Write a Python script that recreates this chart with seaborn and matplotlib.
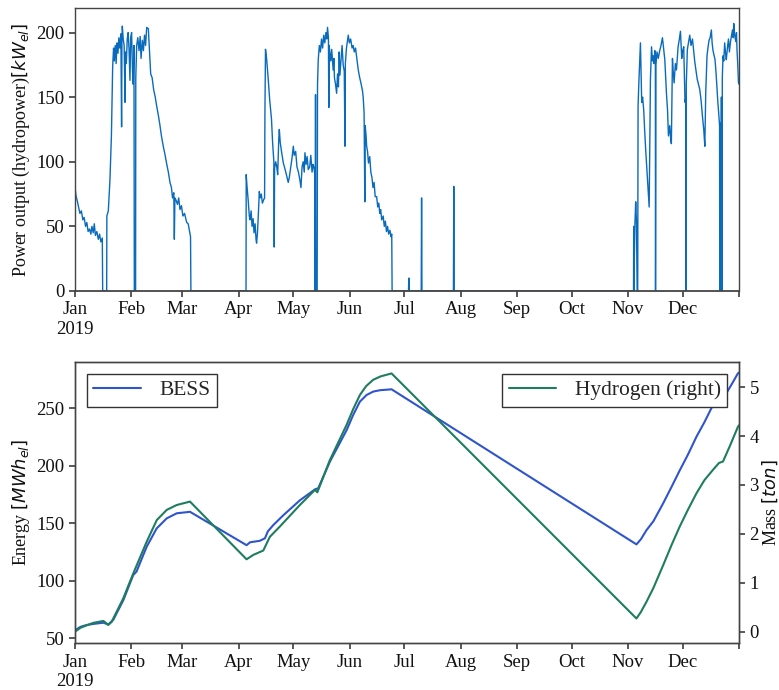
import numpy as np
import pandas as pd
import matplotlib
matplotlib.use("Agg")
import matplotlib.pyplot as plt
import seaborn as sns

# ---------------- data (day-of-year, value) ----------------
hydro_day = [
    0, 0.5, 1.5, 2.7, 3.5, 4.3, 5.0, 5.8, 6.5, 7.2, 8.0, 8.7, 9.3, 10.0, 10.6, 11.2, 12.0, 12.8, 13.5, 14.2, 15.0, 15.2,
    17.4, 17.5, 18.3, 19.2, 20.0, 20.7, 21.2, 21.6, 22.1, 22.6, 23.1, 23.6, 24.1, 24.6, 25.2, 25.6, 25.8, 26.0, 26.5,
    27.0, 27.5, 27.7, 28.2, 28.7, 29.2, 29.7, 30.2, 30.6, 31.1, 31.6, 32.0, 32.4, 32.6, 33.3, 33.4, 33.9, 34.5, 35.2,
    35.8, 36.3, 37.0, 37.6, 38.2, 38.8, 39.4, 40.3, 40.8, 41.2, 41.6, 42.4, 43.2, 44.1, 44.9, 45.8, 46.6, 47.5, 48.5,
    49.4, 50.3, 51.3, 52.2, 53.0, 53.6, 54.3, 54.6, 54.9, 55.6, 56.3, 57.0, 57.7, 58.5, 59.3, 60.2, 61.4, 62.2, 63.2,
    63.5, 63.7,
    94.0, 94.1, 94.6, 95.2, 95.8, 96.2, 96.8, 97.3, 97.9, 98.4, 99.0, 99.5, 99.8, 100.3, 100.8, 101.3, 101.8, 102.4,
    103.0, 103.5, 104.2, 104.4, 104.7, 105.3, 106.2, 107.0, 108.0, 108.6, 109.0, 109.3, 109.5, 109.7, 110.3, 110.8,
    111.4, 112.0, 112.3, 112.8, 113.5, 114.5, 115.3, 116.2, 117.2, 117.8, 118.5, 119.2, 120.0, 120.5, 121.3, 122.0,
    122.8, 123.6, 124.2, 124.8, 125.4, 126.0, 126.4, 127.0, 127.6, 128.2, 129.0, 129.6, 130.3, 130.8, 131.3, 131.8,
    132.0, 132.2, 132.4, 133.1, 133.3, 133.7, 134.3, 134.9, 135.5, 136.1, 136.7, 137.3, 137.9, 138.4, 138.8, 139.3,
    139.5, 139.7, 140.1, 140.6, 141.1, 141.9, 142.3, 142.6, 143.2, 143.8, 144.3, 144.8, 145.2, 145.6, 146.2, 146.8,
    147.4, 148.0, 148.4, 148.6, 149.2, 149.7, 150.2, 150.8, 151.5, 152.3, 152.9, 153.5, 154.2, 154.9, 155.7, 156.5,
    157.3, 158.0, 158.4, 158.9, 159.3, 159.5, 160.0, 160.3, 160.8, 161.3, 162.0, 162.6, 163.2, 163.8, 164.4, 165.0,
    165.8, 166.4, 167.0, 167.5, 168.0, 168.6, 169.4, 170.0, 170.6, 171.2, 171.8, 172.4, 173.1, 173.7, 174.1, 174.3,
    183.3, 183.5, 183.7, 190.3, 190.5, 190.7, 208.0, 208.2, 208.4,
    307.0, 307.1, 307.2, 307.7, 308.2, 308.6, 309.0, 309.3, 309.5, 309.9, 310.8, 311.5, 312.0, 312.6, 313.1, 313.7,
    314.3, 315.0, 315.6, 316.3, 316.9, 317.4, 317.8, 318.3, 318.7, 319.0, 319.1, 319.3, 319.9, 320.6, 321.4, 322.1,
    322.9, 323.5, 324.2, 325.1, 325.7, 326.2, 326.9, 327.4, 327.8, 328.4, 328.8, 329.3, 330.0, 330.6, 331.5, 332.2,
    332.8, 333.5, 334.0, 334.6, 335.3, 335.8, 335.9, 336.0, 336.6, 337.2, 337.9, 338.6, 339.4, 340.1, 340.7, 341.4,
    342.0, 342.7, 343.4, 344.1, 344.9, 345.6, 346.2, 346.7, 347.4, 347.9, 348.5, 349.1, 349.8, 350.2, 350.7, 351.3,
    351.8, 352.4, 352.9, 353.4, 353.8, 354.3, 354.4, 354.5, 354.9, 355.0, 355.3, 355.5, 355.7, 355.8, 356.2, 356.6,
    357.1, 357.6, 358.0, 358.6, 359.2, 359.7, 360.3, 360.9, 361.4, 361.8, 362.1, 362.6, 363.2, 363.6, 363.9, 364.3,
    364.7, 365.0,
]
hydro_kw = [
    81, 74, 68, 60, 62, 55, 57, 50, 53, 46, 48, 44, 50, 45, 52, 43, 46, 40, 44, 38, 41, 0,
    0, 58, 62, 86, 120, 174, 188, 178, 190, 176, 192, 184, 196, 188, 199, 127, 196, 205, 195,
    190, 146, 185, 176, 195, 200, 187, 163, 196, 200, 170, 160, 190, 0, 0, 165, 190, 196, 186,
    197, 180, 194, 186, 198, 190, 204, 203, 190, 179, 168, 165, 156, 150, 143, 136, 129, 120, 112,
    106, 99, 92, 84, 80, 72, 76, 40, 72, 70, 67, 72, 63, 66, 58, 60, 53, 52, 44,
    42, 0,
    0, 90, 80, 70, 58, 55, 62, 50, 56, 45, 52, 40, 37, 45, 60, 77, 72, 75,
    68, 70, 72, 140, 187, 180, 164, 148, 133, 115, 107, 100, 34, 95, 100, 97,
    90, 118, 125, 115, 108, 99, 95, 90, 84, 88, 95, 102, 112, 105, 108, 96,
    92, 86, 80, 96, 100, 92, 107, 98, 104, 94, 96, 105, 92, 98, 96, 90,
    0, 152, 0, 0, 160, 179, 190, 185, 195, 188, 198, 192, 200, 195, 204, 196,
    142, 190, 184, 178, 187, 171, 180, 165, 160, 153, 168, 158, 185, 167, 178, 190,
    175, 170, 112, 176, 188, 193, 198, 192, 195, 188, 190, 185, 188, 180, 171, 165,
    160, 155, 150, 138, 69, 128, 120, 112, 108, 99, 104, 92, 88, 80, 84, 73,
    73, 65, 68, 60, 63, 55, 58, 50, 54, 46, 50, 44, 47, 42, 44, 0,
    0, 10, 0, 0, 72, 0, 0, 81, 0,
    0, 50, 0, 49, 69, 55, 0, 0, 143, 160, 192, 146, 150, 140, 125, 109,
    95, 78, 65, 164, 189, 178, 182, 176, 186, 180, 0, 175, 185, 180, 186, 190,
    196, 188, 179, 153, 140, 120, 128, 118, 114, 180, 170, 161, 176, 171, 189, 195,
    201, 180, 186, 189, 146, 150, 0, 160, 187, 192, 198, 190, 195, 185, 177, 170,
    164, 160, 156, 148, 135, 125, 112, 154, 182, 188, 194, 196, 202, 192, 186, 182,
    179, 168, 156, 145, 138, 128, 0, 130, 120, 0, 150, 0, 0, 165, 182, 178,
    192, 184, 179, 188, 195, 185, 193, 198, 202, 196, 207, 198, 193, 200, 186, 175,
    161, 160,
]

bess_day = [0, 3, 6.4, 10, 15.6, 18.3, 21, 26.5, 32, 33.8, 39.4, 44.9, 50.4, 55.9, 63.2, 94.3, 96.2, 101.6,
            104.4, 106, 109, 114.5, 123.6, 131.9, 133.7, 140.1, 149.3, 152.9, 156.6, 160.3, 163.9, 167.6, 174,
            308.6, 311, 314.1, 318, 323.3, 328, 332.4, 337, 341.6, 346, 350.7, 354, 358, 361, 364.4, 365]
bess_mwh = [57, 60, 61.6, 62.5, 63.6, 62, 66, 83, 105, 108, 129.7, 145.6, 154.3, 158.7, 160, 131, 133.5, 134.8,
            137, 143, 148.5, 157, 170, 179.5, 180.5, 203.6, 231, 244.2, 255.8, 261.6, 264.5, 265.7, 266.5,
            131.7, 136, 144, 152, 167.4, 182, 196, 210, 225.3, 238, 252.9, 258, 263, 271, 280.4, 281]

h2_day = [0, 3, 6.4, 10, 15.6, 18.3, 20.1, 26.5, 32, 39.4, 44.9, 50.4, 55.9, 63.2, 94.3, 98, 103.5, 107.1,
          112.6, 123.6, 131.9, 133.2, 140.1, 149.3, 152.9, 156.6, 160, 163.9, 168, 174,
          308.6, 311, 314.1, 318, 323.3, 328, 332.4, 337, 341.6, 346, 350.7, 354, 356.2, 360, 364.4, 365]
h2_ton = [0.0, 0.08, 0.13, 0.18, 0.22, 0.14, 0.2, 0.68, 1.19, 1.84, 2.28, 2.49, 2.59, 2.66, 1.48, 1.57, 1.66, 1.94,
          2.15, 2.59, 2.9, 2.85, 3.51, 4.23, 4.55, 4.84, 5.02, 5.15, 5.22, 5.28,
          0.27, 0.4, 0.61, 0.9, 1.36, 1.78, 2.15, 2.5, 2.83, 3.1, 3.31, 3.45, 3.48, 3.8, 4.19, 4.22]

month_labels = ["Jan\n2019", "Feb", "Mar", "Apr", "May", "Jun", "Jul", "Aug", "Sep", "Oct", "Nov", "Dec"]

# ---------------- build frames ----------------
t0 = pd.Timestamp("2019-01-01")
to_time = lambda d: t0 + pd.to_timedelta(np.asarray(d, dtype=float), unit="D")
df_h = pd.DataFrame({"time": to_time(hydro_day), "kW": hydro_kw})
df_b = pd.DataFrame({"time": to_time(bess_day), "MWh": bess_mwh})
df_g = pd.DataFrame({"time": to_time(h2_day), "ton": h2_ton})

# ---------------- style ----------------
sns.set_theme(style="ticks")
plt.rcParams["font.family"] = ["Liberation Serif", "DejaVu Serif"]
plt.rcParams["mathtext.fontset"] = "dejavusans"
spine_c = "#444444"
plt.rcParams.update({
    "axes.edgecolor": spine_c, "axes.linewidth": 1.0,
    "xtick.color": spine_c, "ytick.color": spine_c,
    "xtick.labelcolor": "#111111", "ytick.labelcolor": "#111111",
    "xtick.major.size": 4, "ytick.major.size": 4,
    "xtick.labelsize": 13.5, "ytick.labelsize": 13.5, "axes.labelsize": 13,
    "axes.labelcolor": "#111111",
})

fig = plt.figure(figsize=(7.79, 6.90), dpi=100)
ax1 = fig.add_axes([0.0963, 0.5783, 0.8524, 0.4101])
ax2 = fig.add_axes([0.0963, 0.0677, 0.8524, 0.4081])

xticks = list(pd.date_range("2019-01-01", periods=12, freq="MS")) + [pd.Timestamp("2020-01-01")]
xticklabels = month_labels + [""]
xlim = (pd.Timestamp("2019-01-01"), pd.Timestamp("2020-01-01"))

# top panel
sns.lineplot(data=df_h, x="time", y="kW", ax=ax1, color="#0a6bbd", linewidth=1.0,
             estimator=None, sort=False)
ax1.set_xlim(xlim)
ax1.set_ylim(0, 219)
ax1.set_yticks([0, 50, 100, 150, 200])
ax1.set_xticks(xticks)
ax1.set_xticklabels(xticklabels)
ax1.set_xlabel("")
ax1.set_ylabel("Power output (hydropower)$[kW_{el}]$", labelpad=3)

# bottom panel
sns.lineplot(data=df_b, x="time", y="MWh", ax=ax2, color="#2f55cc", linewidth=1.5,
             estimator=None, sort=False, label="BESS")
ax2.set_xlim(xlim)
ax2.set_ylim(45.7, 290.5)
ax2.set_yticks([50, 100, 150, 200, 250])
ax2.set_xticks(xticks)
ax2.set_xticklabels(xticklabels)
ax2.set_xlabel("")
ax2.set_ylabel("Energy $[MWh_{el}]$", labelpad=3)

ax3 = ax2.twinx()
sns.lineplot(data=df_g, x="time", y="ton", ax=ax3, color="#1e7d5e", linewidth=1.5,
             estimator=None, sort=False, label="Hydrogen (right)")
ax3.set_ylim(-0.237, 5.52)
ax3.set_yticks([0, 1, 2, 3, 4, 5])
ax3.set_ylabel("Mass $[ton]$", labelpad=1)
ax3.set_xlim(xlim)

leg_kw = dict(fontsize=15.5, fancybox=False, framealpha=1, edgecolor="#333333",
              handlelength=2.2, handletextpad=0.85, borderpad=0.3, borderaxespad=0.55)
l1 = ax2.legend(loc="upper left", **leg_kw)
l2 = ax3.legend(loc="upper right", **leg_kw)
for lg in (l1, l2):
    lg.get_frame().set_linewidth(1.0)

for a in (ax1, ax2, ax3):
    for s in a.spines.values():
        s.set_visible(True)
        s.set_color(spine_c)
ax1.spines["bottom"].set_linewidth(1.3)
ax1.spines["bottom"].set_zorder(5)

fig.savefig("out.png", dpi=100)
